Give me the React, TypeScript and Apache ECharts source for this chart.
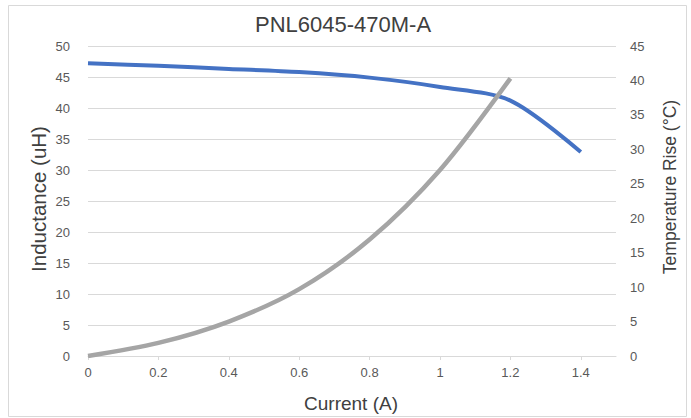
import React, { useEffect, useRef } from "react";
import * as echarts from "echarts";

const title = "PNL6045-470M-A";
const xTicks = [0, 0.2, 0.4, 0.6, 0.8, 1, 1.2, 1.4];
const currentL = [0, 0.2, 0.4, 0.6, 0.8, 1.0, 1.2, 1.4];
const inductance = [47.2, 46.8, 46.3, 45.8, 44.9, 43.4, 41.2, 32.9];
const currentT = [0, 0.2, 0.4, 0.6, 0.8, 1.0, 1.2];
const tempRise = [0, 1.9, 5.0, 9.7, 16.9, 27.0, 40.3];

export default function App() {
  const ref = useRef<HTMLDivElement>(null);
  useEffect(() => {
    if (!ref.current) return;
    const chart = echarts.init(ref.current, null, { renderer: "svg" });
    const font = "'Liberation Sans', Arial, sans-serif";
    chart.setOption({
      animation: false,
      backgroundColor: "#ffffff",
      textStyle: { fontFamily: font },
      grid: { left: 88, right: 75, top: 46, bottom: 62 },
      xAxis: {
        type: "value",
        min: 0,
        max: 1.5,
        interval: 0.2,
        axisLine: { show: true, lineStyle: { color: "#d9d9d9", width: 1 } },
        axisTick: { show: true, customValues: xTicks, length: 4, inside: false, lineStyle: { color: "#d9d9d9" } },
        axisLabel: { customValues: xTicks, color: "#595959", fontSize: 13, margin: 10, fontFamily: font },
        splitLine: { show: false },
      },
      yAxis: [
        {
          type: "value",
          min: 0,
          max: 50,
          interval: 5,
          position: "left",
          axisLine: { show: false },
          axisTick: { show: false },
          axisLabel: { color: "#595959", fontSize: 13, margin: 18, fontFamily: font },
          splitLine: { show: true, lineStyle: { color: "#d9d9d9", width: 1 } },
        },
        {
          type: "value",
          min: 0,
          max: 45,
          interval: 5,
          position: "right",
          axisLine: { show: false },
          axisTick: { show: false },
          axisLabel: { color: "#595959", fontSize: 13, margin: 14, fontFamily: font },
          splitLine: { show: false },
        },
      ],
      graphic: [
        {
          type: "rect",
          shape: { x: 8.5, y: 5.5, width: 678, height: 411 },
          style: { fill: "none", stroke: "#d9d9d9", lineWidth: 1 },
          silent: true,
          z: -1,
        },
        {
          type: "text",
          x: 343,
          y: 24,
          style: {
            text: title,
            fontSize: 22,
            fill: "#404040",
            fontFamily: font,
            textAlign: "center",
            textVerticalAlign: "middle",
          },
        },
        {
          type: "text",
          x: 38,
          y: 199,
          rotation: Math.PI / 2,
          style: {
            text: "Inductance (uH)",
            fontSize: 20.5,
            fill: "#404040",
            fontFamily: font,
            textAlign: "center",
            textVerticalAlign: "middle",
          },
        },
        {
          type: "text",
          x: 670,
          y: 187,
          rotation: Math.PI / 2,
          style: {
            text: "Temperature Rise (°C)",
            fontSize: 17.5,
            fill: "#404040",
            fontFamily: font,
            textAlign: "center",
            textVerticalAlign: "middle",
          },
        },
        {
          type: "text",
          x: 351,
          y: 403,
          style: {
            text: "Current (A)",
            fontSize: 19,
            fill: "#404040",
            fontFamily: font,
            textAlign: "center",
            textVerticalAlign: "middle",
          },
        },
      ],
      series: [
        {
          name: "Inductance",
          type: "line",
          yAxisIndex: 0,
          smooth: 0.3,
          showSymbol: false,
          lineStyle: { color: "#4472C4", width: 4 },
          data: currentL.map((x, i) => [x, inductance[i]]),
        },
        {
          name: "Temperature Rise",
          type: "line",
          yAxisIndex: 1,
          smooth: 0.3,
          showSymbol: false,
          lineStyle: { color: "#A5A5A5", width: 4.5 },
          data: currentT.map((x, i) => [x, tempRise[i]]),
        },
      ],
    });
    return () => chart.dispose();
  }, []);
  return (
    <div
      ref={ref}
      style={{ position: "absolute", left: 0, top: 0, width: 691, height: 418 }}
    />
  );
}
